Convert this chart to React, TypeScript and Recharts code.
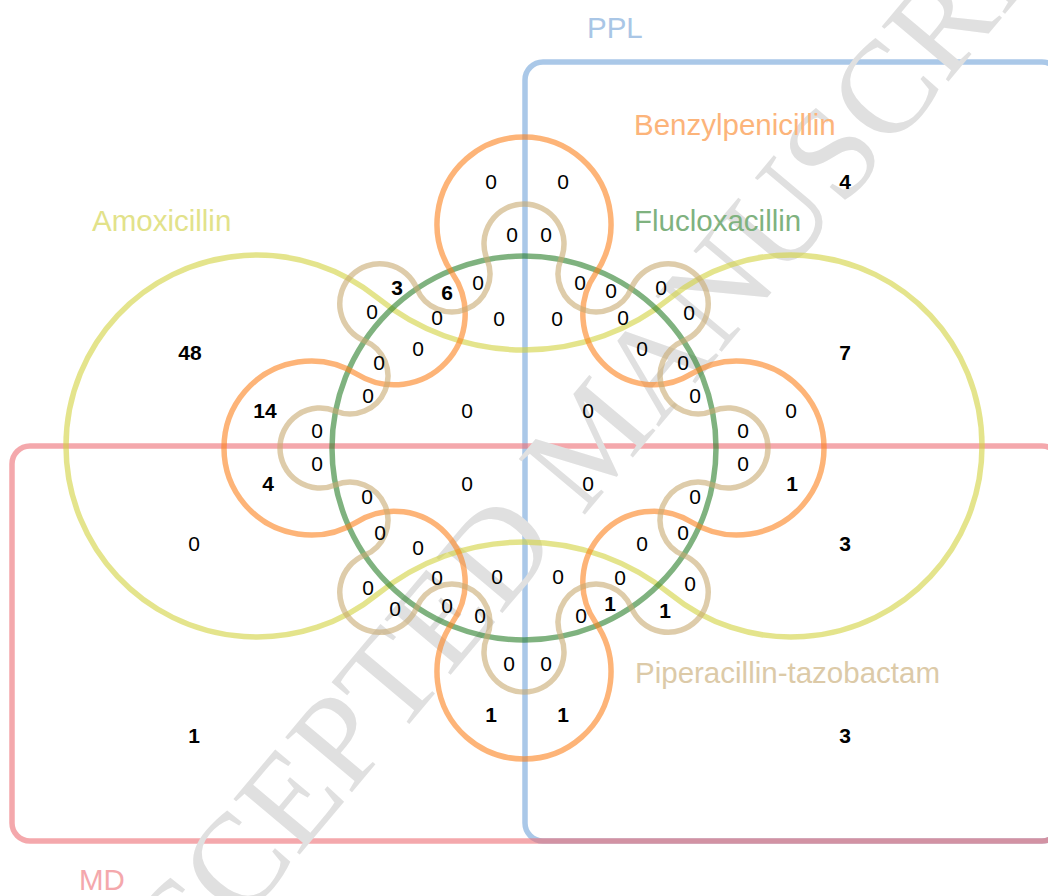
import { ScatterChart, Scatter, XAxis, YAxis, ReferenceArea } from "recharts"

const W = 1048
const H = 896
const K = 1 // pixels per diagram unit (domain spans the chart exactly)
const SANS = "'Liberation Sans', Arial, sans-serif"
const TAU = Math.PI * 2

// sets
const setNames = ["PPL", "MD", "Amoxicillin", "Flucloxacillin", "Benzylpenicillin", "Piperacillin-tazobactam"]
const setLabelX = [587, 79, 92, 634, 634, 635]
const setLabelY = [38, 890, 231, 231, 135, 683]
const setLine = ["#71a3d9", "#ed6e75", "#d2d23f", "#2a7f2a", "#fc821e", "#c8aa71"]
const setInk = ["#a9c6e6", "#f4a8ac", "#e2e28a", "#7fb27f", "#fcb47a", "#dccaa8"]

// counts for the 63 regions, top to bottom
const regionCounts = [
  0, 0, 4, 0, 0, 3, 6, 0, 0, 0, 0, 0, 0, 0, 0, 0, 0,
  48, 7, 0, 0, 0, 0, 0, 0, 14, 0, 0, 0, 0, 0, 0, 0,
  4, 0, 0, 1, 0, 0, 0, 3, 0, 0, 0, 0,
  0, 0, 0, 0, 0, 0, 0, 0, 0, 0, 1, 1, 0, 0, 1, 1, 1, 3,
]
const regionAt: [number, number][] = [
  [491, 181], [563, 181], [845, 181], [512, 234], [546, 234], [397, 287], [447, 292], [478, 282], [580, 282],
  [611, 290], [661, 287], [372, 311], [437, 317], [499, 318], [557, 318], [623, 317], [689, 312],
  [190, 352], [845, 352], [418, 348], [642, 348], [379, 362], [683, 362], [368, 395], [695, 395],
  [265, 410], [467, 410], [588, 410], [791, 410], [317, 430], [743, 430], [317, 463], [743, 463],
  [268, 483], [467, 483], [588, 483], [792, 483], [367, 496], [695, 496], [194, 543], [845, 543],
  [380, 532], [683, 532], [418, 547], [642, 543],
  [368, 587], [437, 577], [497, 576], [558, 576], [620, 577], [690, 583], [395, 608], [447, 605],
  [480, 615], [581, 615], [610, 603], [665, 610], [509, 663], [546, 663], [491, 714], [563, 714],
  [194, 735], [845, 735],
]

// diagram geometry (layout only)
type Pt = { x: number; y: number }
type Circ = Pt & { r: number }
const CENTER: Pt = { x: 524, y: 448 }
const FLUCLOX_R = 192
const AMOX_LOBES: Circ[] = [{ x: 257, y: 446, r: 191 }, { x: 791, y: 446, r: 191 }]
const AMOX_JOINS: Pt[] = [{ x: 524, y: 118 }, { x: 524, y: 774 }]
const BENZYL_LOBES: Circ[] = [
  { x: 524, y: 224, r: 87 }, { x: 737, y: 448, r: 87 }, { x: 524, y: 672, r: 87 }, { x: 311, y: 448, r: 87 },
]
const PIP_LOBES: Circ[] = [-90, -45, 0, 45, 90, 135, 180, 225].map((a) => ({
  x: CENTER.x + 204 * Math.cos((a * Math.PI) / 180),
  y: CENTER.y + 204 * Math.sin((a * Math.PI) / 180),
  r: 40,
}))

const dist = (a: Pt, b: Pt) => Math.hypot(b.x - a.x, b.y - a.y)

// joins sit on the bisector of two neighbour lobes, pulled toward (or away from) the centre
function joinsFor(lobes: Circ[], pull: number): Pt[] {
  return lobes.map((a, i) => {
    const b = lobes[(i + 1) % lobes.length]
    const m = { x: (a.x + b.x) / 2, y: (a.y + b.y) / 2 }
    const d = dist(m, CENTER)
    return { x: m.x + ((CENTER.x - m.x) * pull) / d, y: m.y + ((CENTER.y - m.y) * pull) / d }
  })
}

function arc(c: Circ, from: Pt, to: Pt, sweep: 0 | 1, map: (p: Pt) => Pt) {
  const a0 = Math.atan2(from.y - c.y, from.x - c.x)
  const a1 = Math.atan2(to.y - c.y, to.x - c.x)
  let span = sweep ? a1 - a0 : a0 - a1
  span = ((span % TAU) + TAU) % TAU
  const q = map(to)
  return `A ${c.r * K} ${c.r * K} 0 ${span > Math.PI ? 1 : 0} ${sweep} ${q.x} ${q.y}`
}

function lobedPath(lobes: Circ[], joins: Pt[], map: (p: Pt) => Pt) {
  const n = lobes.length
  const js: Circ[] = joins.map((j, i) => {
    const a = lobes[i]
    const b = lobes[(i + 1) % n]
    return { ...j, r: (dist(j, a) - a.r + dist(j, b) - b.r) / 2 }
  })
  const touch = (l: Circ, j: Pt) => {
    const d = dist(l, j)
    return { x: l.x + ((j.x - l.x) * l.r) / d, y: l.y + ((j.y - l.y) * l.r) / d }
  }
  const inPt = lobes.map((l, i) => touch(l, js[(i - 1 + n) % n]))
  const outPt = lobes.map((l, i) => touch(l, js[i]))
  const s = map(inPt[0])
  let d = `M ${s.x} ${s.y}`
  for (let i = 0; i < n; i++) {
    d += " " + arc(lobes[i], inPt[i], outPt[i], 1, map)
    d += " " + arc(js[i], outPt[i], inPt[(i + 1) % n], 0, map)
  }
  return d + " Z"
}

const curveData = [
  { x: CENTER.x, y: CENTER.y, lobes: AMOX_LOBES, joins: AMOX_JOINS, color: setLine[2] },
  { x: CENTER.x, y: CENTER.y, lobes: BENZYL_LOBES, joins: joinsFor(BENZYL_LOBES, -32), color: setLine[4] },
  { x: CENTER.x, y: CENTER.y, lobes: PIP_LOBES, joins: joinsFor(PIP_LOBES, 0), color: setLine[5] },
]

function LobedCurve(props: any) {
  const { cx, cy, payload } = props
  const map = (p: Pt) => ({ x: cx + (p.x - payload.x) * K, y: cy + (p.y - payload.y) * K })
  return (
    <path d={lobedPath(payload.lobes, payload.joins, map)} fill="none"
      stroke={payload.color} strokeOpacity={0.6} strokeWidth={5.5} />
  )
}

const counts = regionCounts.map((v, i) => ({ x: regionAt[i][0], y: regionAt[i][1], v }))
const names = setNames.map((name, i) => ({ x: setLabelX[i], y: setLabelY[i], name, color: setInk[i] }))

export default function App() {
  return (
    <div style={{ position: "absolute", left: 0, top: 0, background: "#fff" }}>
      <ScatterChart width={W} height={H} margin={{ top: 0, right: 0, bottom: 0, left: 0 }}>
        <XAxis type="number" dataKey="x" domain={[0, W]} hide />
        <YAxis type="number" dataKey="y" domain={[0, H]} reversed hide />

        {/* watermark */}
        <Scatter
          data={[{ x: 592, y: 437 }]}
          isAnimationActive={false}
          shape={(p: any) => (
            <text x={p.cx} y={p.cy} transform={`rotate(-50 ${p.cx} ${p.cy})`} textAnchor="middle"
              dominantBaseline="central" fontFamily="'Liberation Serif', 'DejaVu Serif', serif"
              fontSize={132} fill="#e0e0e0">
              ACCEPTED MANUSCRIPT
            </text>
          )}
        />

        <ReferenceArea x1={525} x2={1060} y1={62} y2={841} ifOverflow="visible"
          shape={(p: any) => (
            <rect x={p.x} y={p.y} width={p.width} height={p.height} rx={18} fill="none"
              stroke={setLine[0]} strokeOpacity={0.6} strokeWidth={5.5} />
          )}
        />
        <ReferenceArea x1={12} x2={1060} y1={446} y2={841} ifOverflow="visible"
          shape={(p: any) => (
            <rect x={p.x} y={p.y} width={p.width} height={p.height} rx={18} fill="none"
              stroke={setLine[1]} strokeOpacity={0.6} strokeWidth={5.5} />
          )}
        />

        <Scatter data={curveData.slice(0, 1)} isAnimationActive={false} shape={LobedCurve} />
        <Scatter
          data={[{ x: CENTER.x, y: CENTER.y }]}
          isAnimationActive={false}
          shape={(p: any) => (
            <circle cx={p.cx} cy={p.cy} r={FLUCLOX_R * K} fill="none" stroke={setLine[3]}
              strokeOpacity={0.6} strokeWidth={5.5} />
          )}
        />
        <Scatter data={curveData.slice(1, 2)} isAnimationActive={false} shape={LobedCurve} />
        <Scatter data={curveData.slice(2, 3)} isAnimationActive={false} shape={LobedCurve} />

        {/* set names */}
        <Scatter
          data={names}
          isAnimationActive={false}
          shape={(p: any) => (
            <text x={p.cx} y={p.cy} fontFamily={SANS} fontSize={29.5} fill={p.payload.color}>
              {p.payload.name}
            </text>
          )}
        />

        {/* region counts */}
        <Scatter
          data={counts}
          isAnimationActive={false}
          shape={(p: any) => (
            <text x={p.cx} y={p.cy + 7.5} textAnchor="middle" fontFamily={SANS} fontSize={21}
              fontWeight={p.payload.v > 0 ? 700 : 400} fill="#000">
              {p.payload.v}
            </text>
          )}
        />
      </ScatterChart>
    </div>
  )
}
